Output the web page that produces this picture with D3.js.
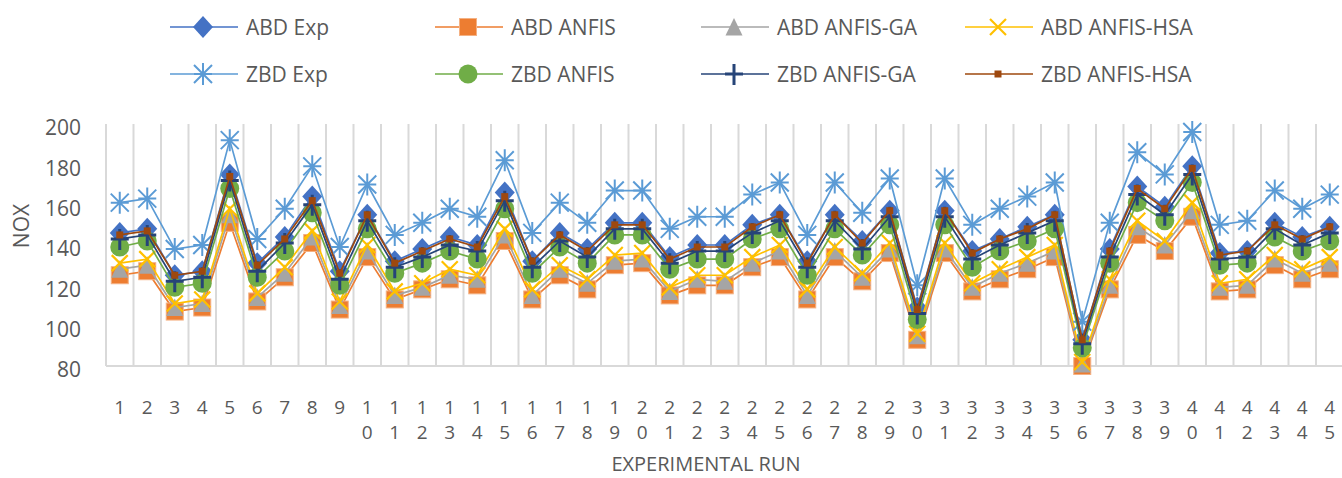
<!DOCTYPE html>
<html>
<head>
<meta charset="utf-8">
<script src="https://cdn.jsdelivr.net/npm/d3@7"></script>
<style>
  body { margin: 0; background: #fff; }
  text { font-family: "Open Sans", "Noto Sans", sans-serif; fill: #595959; }
</style>
</head>
<body>
<script>
var runs = ["1","2","3","4","5","6","7","8","9","10","11","12","13","14","15","16","17","18","19","20","21","22","23","24","25","26","27","28","29","30","31","32","33","34","35","36","37","38","39","40","41","42","43","44","45"];
var yTicks = [80, 100, 120, 140, 160, 180, 200];

var abdExp   = [146,148,125,127,175,131,144,164,127,155,132,138,144,140,166,132,146,138,151,151,134,140,140,150,155,132,155,142,157,109,157,137,143,149,155,93,138,169,159,179,136,137,151,144,149];
var abdAnfis = [125,127,107,109,151,112,124,141,108,134,113,118,123,120,142,113,125,118,130,131,115,120,120,129,134,113,134,122,136,93,136,117,123,128,134,80,118,145,137,154,117,118,130,123,128];
var abdGa    = [128,130,109,111,155,114,126,144,110,137,115,119,125,123,145,115,128,121,132,133,117,123,122,131,137,115,137,124,138,95,138,119,126,131,137,81,120,149,140,157,119,120,133,126,131];
var abdHsa   = [131,133,111,113,158,116,129,147,112,140,117,121,128,125,148,118,130,123,135,136,119,125,125,134,140,118,139,126,141,96,141,121,128,134,140,82,123,152,142,161,121,123,135,128,134];
var zbdExp   = [161,163,138,140,192,143,158,179,139,170,145,151,158,154,182,146,161,151,167,167,148,154,154,165,171,145,171,156,173,120,173,150,158,164,171,102,151,186,175,196,150,152,167,158,165];
var zbdAnfis = [139,142,119,121,168,124,137,156,120,148,126,131,137,133,158,126,139,131,145,145,128,133,133,143,148,125,148,135,150,103,150,129,137,142,148,89,131,161,152,171,130,131,144,137,142];
var zbdGa    = [143,145,122,124,172,127,141,160,123,152,129,134,140,137,162,129,142,134,148,148,131,137,137,146,152,129,152,138,154,106,154,133,140,146,152,91,134,165,155,175,133,134,148,140,146];
var zbdHsa   = [145,147,125,127,174,130,143,162,126,155,131,137,143,139,164,132,145,137,150,150,133,139,139,149,155,131,155,141,157,108,157,136,143,148,155,93,137,168,158,178,135,137,150,143,149];

var series = [
  {name: "ABD Exp",       values: abdExp,   color: "#4472C4", marker: "diamond"},
  {name: "ABD ANFIS",     values: abdAnfis, color: "#ED7D31", marker: "square"},
  {name: "ABD ANFIS-GA",  values: abdGa,    color: "#A5A5A5", marker: "triangle"},
  {name: "ABD ANFIS-HSA", values: abdHsa,   color: "#FFC000", marker: "x"},
  {name: "ZBD Exp",       values: zbdExp,   color: "#5B9BD5", marker: "star"},
  {name: "ZBD ANFIS",     values: zbdAnfis, color: "#70AD47", marker: "circle"},
  {name: "ZBD ANFIS-GA",  values: zbdGa,    color: "#264478", marker: "plus"},
  {name: "ZBD ANFIS-HSA", values: zbdHsa,   color: "#9E480E", marker: "small"}
];

var width = 1342, height = 478;
var svg = d3.select("body").append("svg").attr("width", width).attr("height", height);

var x = d3.scaleBand().domain(runs).range([106, 1343.5]).padding(0);
var y = d3.scaleLinear().domain([80, 200]).range([366, 124]);

// vertical gridlines between categories
var bounds = runs.map(function(r){ return x(r); }).concat([x.range()[1]]);
svg.append("g").selectAll("line").data(bounds).enter().append("line")
  .attr("x1", function(d){ return d; }).attr("x2", function(d){ return d; })
  .attr("y1", y(200)).attr("y2", y(80))
  .attr("stroke", "#d9d9d9").attr("stroke-width", 2);

svg.append("line")
  .attr("x1", 106).attr("x2", width).attr("y1", y(80)).attr("y2", y(80))
  .attr("stroke", "#d9d9d9").attr("stroke-width", 2);

// y axis
var yAxis = svg.append("g").attr("transform", "translate(81,0)")
  .call(d3.axisLeft(y).tickValues(yTicks).tickSize(0).tickPadding(0));
yAxis.select(".domain").remove();
yAxis.selectAll("text").attr("font-size", 21).attr("dy", "0.52em")
  .style("font-family", "'Open Sans', sans-serif").attr("fill", "#595959");

// x axis labels, one digit per line
var xAxis = svg.append("g").attr("transform", "translate(0," + 400 + ")")
  .call(d3.axisBottom(x).tickSize(0).tickPadding(0));
xAxis.select(".domain").remove();
xAxis.selectAll("text").each(function(d){
  var t = d3.select(this).text("").attr("dy", null).attr("y", 0)
    .attr("font-size", 19).attr("fill", "#595959")
    .style("font-family", "'Open Sans', sans-serif");
  d.split("").forEach(function(ch, i){
    t.append("tspan").attr("x", 0).attr("y", 14 + i * 25).text(ch);
  });
});

svg.append("text").attr("x", 706).attr("y", 471).attr("text-anchor", "middle")
  .attr("font-size", 20).text("EXPERIMENTAL RUN");
svg.append("text").attr("transform", "translate(29,226) rotate(-90)")
  .attr("text-anchor", "middle").attr("font-size", 21).text("NOX");

function drawMarker(g, type, color) {
  if (type === "diamond") {
    g.append("path").attr("d", "M0,-11L10,0L0,11L-10,0Z").attr("fill", color);
  } else if (type === "square") {
    g.append("rect").attr("x", -8.5).attr("y", -8.5).attr("width", 17).attr("height", 17)
      .attr("fill", color).attr("stroke", "#f4b183").attr("stroke-width", 1);
  } else if (type === "triangle") {
    g.append("path").attr("d", "M0,-9L8.5,8.5L-8.5,8.5Z").attr("fill", color);
  } else if (type === "x") {
    g.append("path").attr("d", "M-8,-8L8,8M-8,8L8,-8").attr("stroke", color).attr("stroke-width", 2.2).attr("fill", "none");
  } else if (type === "star") {
    g.append("path").attr("d", "M0,-11L0,11M-9,-9L9,9M-9,9L9,-9M-9,0L9,0").attr("stroke", color).attr("stroke-width", 2).attr("fill", "none");
  } else if (type === "circle") {
    g.append("circle").attr("r", 9.5).attr("fill", color);
  } else if (type === "plus") {
    g.append("path").attr("d", "M0,-10L0,11M-9,0L9,0").attr("stroke", color).attr("stroke-width", 3).attr("fill", "none");
  } else if (type === "small") {
    g.append("rect").attr("x", -3.5).attr("y", -3.5).attr("width", 7).attr("height", 7).attr("fill", color);
  }
}

var line = d3.line()
  .x(function(d, i){ return x(runs[i]) + x.bandwidth() / 2; })
  .y(function(d){ return y(d); });

series.forEach(function(s){
  var g = svg.append("g");
  g.append("path").attr("d", line(s.values)).attr("fill", "none")
    .attr("stroke", s.color).attr("stroke-width", 1.7);
  g.selectAll("g.m").data(s.values).enter().append("g").attr("class", "m")
    .attr("transform", function(d, i){ return "translate(" + (x(runs[i]) + x.bandwidth() / 2) + "," + y(d) + ")"; })
    .each(function(){ drawMarker(d3.select(this), s.marker, s.color); });
});

// legend
var legX = [203, 468, 734, 998], legY = [27, 74];
series.forEach(function(s, i){
  var cx = legX[i % 4], cy = legY[Math.floor(i / 4)];
  var g = svg.append("g").attr("transform", "translate(" + cx + "," + cy + ")");
  g.append("line").attr("x1", -33).attr("x2", 35).attr("y1", 0).attr("y2", 0)
    .attr("stroke", s.color).attr("stroke-width", 1.7);
  drawMarker(g, s.marker, s.color);
  g.append("text").attr("x", 43).attr("y", 0).attr("dy", "0.36em")
    .attr("font-size", 21).text(s.name);
});
</script>
</body>
</html>
